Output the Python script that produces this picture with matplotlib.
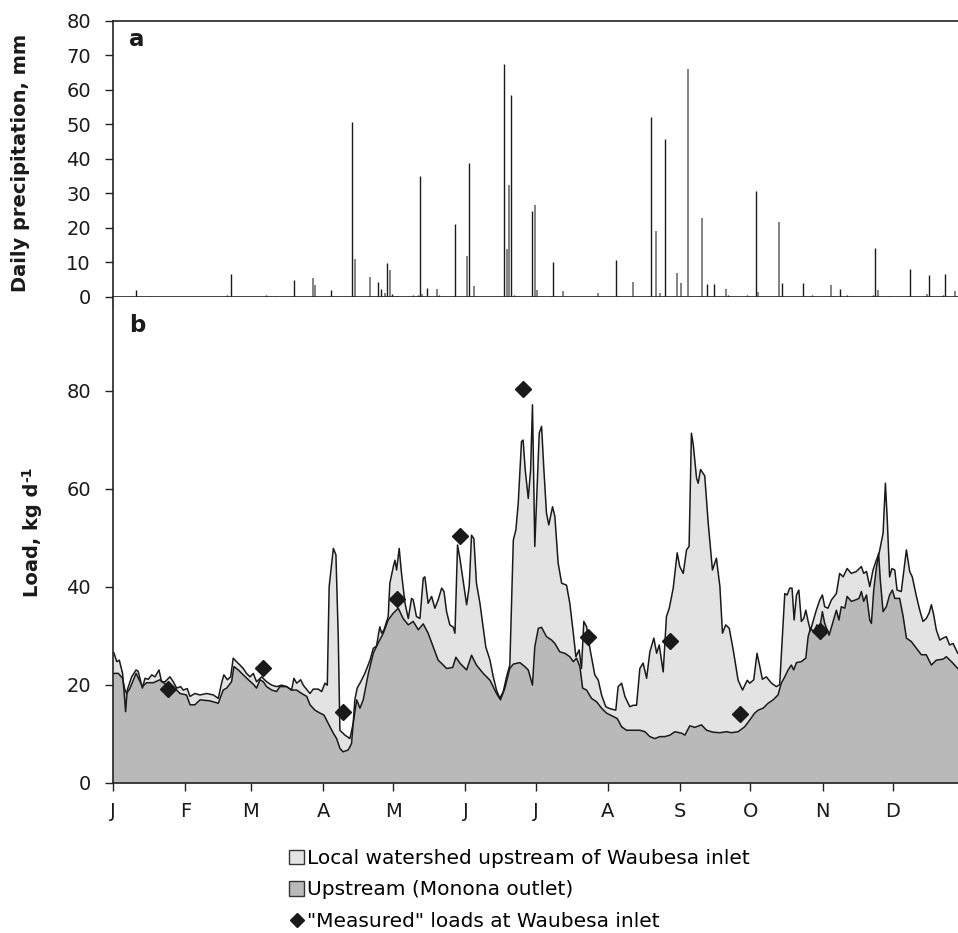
import numpy as np
import matplotlib
matplotlib.use('Agg')
import matplotlib.pyplot as plt
from matplotlib.patches import Patch
from matplotlib.lines import Line2D

plt.rcParams['font.family'] = ['DejaVu Sans']

# --- panel a: daily precipitation (mm), day of year ---
precip_black_days = [9.7, 15.5, 48.7, 50.5, 65.5, 69.7, 77.7, 93.6, 96.5, 102.5, 109.5,
                     113.6, 114.6, 117.5, 119.6, 120.6, 121.5, 128.6, 130.8, 131.6, 134.6,
                     139.5, 146.6, 152.5, 167.6, 170.6, 171.6, 173.7, 179.6, 187.6, 188.6,
                     215.6, 216.6, 230.5, 236.5, 254.5, 257.5, 263.5, 271.6, 275.5, 286.5,
                     295.5, 299.5, 308.5, 309.5, 311.5, 314.5, 325.6, 326.6, 332.6, 341.6,
                     347.7, 349.6, 355.6, 356.6]
precip_black = [2.0, 0.3, 0.5, 6.7, 0.5, 0.3, 4.9, 2.0, 0.4, 50.7, 0.4,
                4.3, 2.4, 9.9, 0.8, 0.3, 0.3, 0.5, 0.7, 35.1, 2.6,
                0.6, 21.1, 38.8, 67.6, 58.5, 0.6, 0.3, 24.9, 0.3, 10.1,
                10.8, 0.3, 52.3, 45.8, 3.7, 3.7, 0.6, 0.6, 30.6, 4.1,
                4.0, 0.6, 0.3, 0.3, 2.2, 0.7, 0.6, 14.3, 0.3, 8.2,
                0.3, 6.3, 0.7, 6.8]
precip_gray_days = [85.5, 86.5, 103.5, 110.3, 116.5, 118.5, 132.5, 138.6, 151.5, 154.6,
                    168.6, 169.6, 180.6, 181.6, 192.6, 207.6, 222.6, 232.5, 234.5, 241.5,
                    243.5, 246.5, 252.5, 262.5, 276.5, 285.5, 307.5, 327.6, 348.6, 360.6]
precip_gray = [5.6, 3.5, 11.0, 5.9, 1.1, 7.8, 1.0, 2.2, 11.9, 3.2,
               13.8, 32.4, 26.6, 2.0, 1.7, 1.1, 4.3, 19.1, 1.2, 7.0,
               4.0, 66.1, 22.8, 2.3, 1.5, 21.7, 3.6, 2.0, 0.8, 1.7]

# --- panel b: loads (kg/d) ---
total_days = [0, 0.4, 1.6, 2.7, 4.1, 5.4, 6.1, 8.0, 9.9, 10.8, 12.6, 13.7, 15.1, 16.6, 18.0,
              19.7, 20.8, 22.3, 24.4, 25.8, 27.3, 29.0, 30.1, 31.8, 33.0, 35.1, 37.3, 40.1,
              43.0, 45.1, 46.5, 47.5, 49.0, 50.4, 51.5, 52.9, 54.4, 55.8, 57.2, 58.7, 60.1,
              61.5, 63.7, 65.8, 68.0, 70.1, 72.2, 74.4, 76.5, 77.5, 78.7, 80.4, 81.5, 83.2,
              84.4, 85.8, 87.9, 89.4, 90.8, 91.8, 92.6, 94.4, 95.5, 96.5, 97.2, 99.4, 101.5,
              102.9, 103.6, 104.6, 105.8, 107.9, 110.1, 111.5, 112.9, 114.3, 115.1, 116.1,
              117.9, 118.6, 120.1, 120.8, 121.5, 122.6, 123.6, 125.1, 126.5, 127.9, 128.6,
              130.0, 131.5, 132.9, 133.6, 135.0, 136.5, 137.9, 139.3, 140.8, 141.8, 142.9,
              144.3, 145.8, 146.5, 147.6, 148.6, 151.5, 152.6, 153.6, 154.6, 155.7, 157.2,
              159.7, 161.5, 162.9, 164.3, 165.7, 167.2, 168.6, 170.0, 171.5, 172.6, 173.6,
              175.0, 175.7, 176.6, 177.9, 178.9, 179.7, 180.7, 182.6, 183.6, 184.6, 185.7,
              186.7, 188.3, 189.3, 190.7, 192.2, 194.3, 195.7, 197.2, 198.3, 199.7, 200.7,
              201.7, 202.9, 204.3, 206.4, 207.9, 209.3, 211.1, 212.9, 215.4, 216.4, 217.9,
              219.3, 221.4, 222.9, 224.3, 225.7, 227.1, 228.6, 230.0, 231.7, 232.9, 234.0,
              235.7, 237.1, 238.3, 240.0, 241.7, 242.8, 244.3, 245.7, 246.8, 247.8, 248.6,
              250.0, 250.7, 251.7, 253.5, 255.0, 256.8, 258.5, 260.0, 261.1, 262.5, 264.0,
              265.7, 267.8, 269.7, 271.7, 272.8, 274.5, 275.9, 277.1, 278.2, 279.9, 282.1,
              284.2, 285.6, 287.8, 288.8, 289.9, 290.9, 291.8, 292.8, 293.8, 294.9, 295.9,
              296.8, 297.8, 298.8, 299.9, 301.3, 302.8, 303.9, 304.9, 306.3, 307.8, 309.9,
              311.3, 312.8, 314.5, 316.3, 318.5, 320.6, 321.6, 322.8, 324.2, 325.6, 327.0,
              328.2, 329.9, 330.9, 331.7, 332.7, 333.7, 334.9, 335.9, 337.7, 339.9, 341.3,
              342.4, 344.2, 345.6, 347.0, 348.4, 349.6, 350.6, 351.6, 352.7, 354.2, 355.6,
              357.0, 358.4, 359.9, 361.9]
total_load = [26.5, 26.5, 24.7, 25.0, 22.3, 14.5, 18.9, 21.6, 23.0, 22.7, 19.3, 21.3, 21.1, 22.0, 21.6,
              23.0, 20.6, 20.6, 21.6, 20.6, 19.3, 19.6, 18.9, 19.2, 17.6, 18.2, 17.9, 18.2,
              17.9, 17.2, 20.3, 22.0, 21.0, 21.6, 25.4, 24.7, 24.0, 23.3, 22.3, 21.6, 22.3,
              20.6, 21.6, 20.6, 19.9, 19.6, 19.9, 19.6, 18.9, 21.3, 20.3, 21.0, 19.9, 18.9,
              18.2, 19.1, 19.1, 18.6, 20.3, 19.9, 40.0, 47.8, 46.5, 29.8, 10.7, 9.7, 9.0,
              12.1, 16.9, 19.3, 20.3, 22.3, 25.0, 27.4, 27.9, 31.8, 30.5, 31.2,
              33.9, 40.7, 44.1, 45.4, 43.4, 47.8, 42.7, 36.6, 33.5, 37.6, 37.3,
              33.9, 33.5, 41.7, 42.0, 36.6, 38.0, 35.6, 37.3, 39.7, 39.0, 34.9,
              32.2, 31.7, 30.5, 48.5, 45.8, 36.3, 40.0, 50.5, 49.8, 40.7, 36.6,
              27.7, 25.0, 21.6, 18.9, 17.2, 18.6, 21.6, 24.0, 49.5, 51.6, 57.0,
              69.6, 69.9, 63.8, 58.0, 63.8, 77.1, 48.2, 71.3, 72.7, 63.8, 55.0,
              52.6, 56.3, 54.3, 44.8, 40.7, 40.3, 36.6, 30.5, 25.7, 27.1, 23.3,
              32.9, 31.8, 27.4, 22.0, 20.9, 17.9, 15.5, 15.1, 14.8, 19.6, 20.3,
              17.6, 15.5, 15.8, 15.8, 23.3, 24.4, 21.3, 26.7, 29.5, 26.4, 28.1,
              22.6, 33.9, 35.6, 39.7, 46.9, 44.1, 42.7, 47.5, 48.2, 71.3, 68.9,
              62.1, 61.1, 63.9, 62.6, 52.9, 43.4, 45.8, 40.0, 30.5, 32.2, 31.5,
              27.1, 20.9, 18.9, 20.9, 20.3, 21.0, 26.4, 23.7, 21.1, 21.6, 20.3,
              19.6, 20.0, 38.6, 38.3, 39.7, 39.7, 33.2, 38.3, 39.3, 32.9, 33.5,
              35.2, 32.9, 31.0, 32.9, 35.2, 37.3, 38.3, 35.9, 35.6, 37.3, 38.6,
              42.7, 42.0, 43.7, 42.7, 43.1, 44.1, 42.7, 43.1, 40.0, 43.4, 45.4,
              46.8, 50.9, 61.1, 53.6, 42.0, 43.7, 43.4, 39.3, 39.0, 47.5, 43.1,
              42.0, 38.0, 35.2, 32.9, 33.5, 34.6, 36.3, 34.2, 31.2, 29.1, 29.5,
              29.8, 28.1, 28.4, 26.4]

upstream_days = [0, 0.4, 2.3, 4.1, 5.1, 5.9, 7.3, 9.9, 12.6, 14.4, 17.3, 20.1, 23.0, 25.8, 28.7,
                 31.5, 33.0, 35.1, 37.3, 41.5, 45.1, 47.2, 48.7, 50.8, 51.8, 53.7, 55.8, 58.0,
                 60.1, 61.5, 63.0, 64.4, 65.8, 68.0, 70.1, 71.5, 74.4, 76.5, 78.7, 80.8, 83.0,
                 84.4, 86.5, 88.7, 90.4, 92.2, 94.4, 95.8, 97.2, 98.6, 100.8, 102.2, 102.9,
                 104.4, 105.8, 107.2, 109.4, 111.5, 113.6, 115.8, 117.9, 120.1, 122.2, 124.3,
                 126.5, 128.6, 130.8, 132.9, 135.0, 137.2, 139.3, 141.5, 142.9, 145.5, 146.9,
                 148.6, 151.5, 153.6, 155.7, 158.6, 161.5, 164.3, 166.0, 167.9, 170.0, 171.5,
                 174.3, 176.4, 177.9, 179.7, 180.7, 182.2, 183.6, 185.7, 187.9, 189.3, 191.4,
                 193.6, 195.7, 197.2, 198.6, 200.0, 201.2, 202.9, 205.0, 207.2, 209.3, 211.4,
                 214.3, 216.0, 217.9, 220.0, 222.9, 225.7, 227.9, 230.0, 232.1, 234.3, 236.4,
                 238.6, 240.7, 243.6, 245.0, 247.1, 249.3, 252.1, 254.3, 257.1, 260.0, 262.8,
                 265.0, 267.8, 270.6, 272.8, 274.9, 276.4, 278.5, 280.6, 282.8, 284.9, 286.3,
                 287.8, 289.2, 290.6, 291.6, 292.8, 294.9, 296.8, 297.8, 298.8, 300.2, 301.6,
                 302.8, 303.9, 304.9, 306.8, 308.5, 309.9, 311.0, 312.0, 313.5, 314.5, 316.3,
                 318.2, 319.6, 320.6, 321.6, 322.8, 324.2, 324.9, 325.9, 327.0, 328.0, 328.7,
                 329.9, 331.3, 332.7, 333.9, 334.9, 337.0, 338.5, 339.9, 342.0, 344.2, 346.3,
                 348.4, 350.6, 352.7, 355.6, 357.0, 359.2, 361.9]
upstream_load = [22.3, 22.3, 22.3, 21.3, 18.9, 18.2, 19.3, 22.3, 19.6, 20.4, 20.4, 21.0, 19.9, 19.6, 18.2,
                 17.9, 15.9, 15.9, 16.9, 16.7, 16.2, 18.9, 19.3, 20.6, 23.7, 23.0, 22.0, 21.0,
                 20.1, 19.3, 21.0, 20.6, 19.6, 18.9, 18.6, 19.6, 19.6, 18.9, 18.9, 18.2, 17.6,
                 15.9, 14.8, 14.2, 13.8, 12.1, 10.1, 9.0, 7.0, 6.3, 6.7, 8.0, 12.1,
                 16.9, 15.2, 16.9, 22.3, 26.4, 28.5, 30.5, 33.2, 34.6, 35.6, 33.5,
                 32.2, 32.9, 31.2, 32.4, 30.5, 27.7, 25.0, 24.0, 23.3, 23.5, 25.6,
                 24.4, 23.0, 26.0, 24.0, 22.3, 20.9, 18.2, 16.9, 19.3, 23.3, 24.2,
                 24.5, 23.7, 23.0, 19.9, 27.7, 31.5, 31.7, 29.8, 29.1, 28.4, 26.7,
                 26.4, 25.7, 24.7, 25.4, 23.7, 19.3, 18.9, 17.2, 16.5, 15.2, 14.2,
                 13.5, 13.1, 11.4, 10.7, 10.7, 10.7, 10.4, 9.4, 9.0, 9.4, 9.4,
                 9.7, 10.4, 10.1, 9.7, 11.6, 11.3, 11.8, 10.7, 10.3, 10.2, 10.4,
                 10.2, 10.4, 11.4, 12.8, 14.2, 14.8, 15.2, 16.2, 16.9, 17.9, 20.3,
                 21.6, 23.0, 24.0, 23.0, 24.5, 24.7, 25.4, 29.8, 31.5, 30.8, 32.2,
                 31.5, 34.9, 32.5, 30.1, 32.9, 35.2, 33.2, 35.9, 35.6, 38.0, 37.0,
                 37.3, 37.6, 39.0, 37.0, 38.3, 33.2, 32.5, 39.3, 43.7, 46.8, 41.4,
                 34.9, 35.9, 38.3, 39.3, 37.6, 37.6, 33.9, 29.5, 28.8, 27.4, 26.1,
                 26.1, 24.0, 25.0, 25.2, 25.7, 24.7, 23.3]

measured_days = [23.4, 64.4, 98.6, 121.5, 148.6, 175.7, 203.6, 238.7, 268.7, 302.8]
measured_load = [19.1, 23.5, 14.5, 37.4, 50.3, 80.3, 29.7, 28.9, 14.0, 31.0]

month_starts = [0, 31, 59, 90, 120, 151, 181, 212, 243, 273, 304, 334]
month_labels = ['J', 'F', 'M', 'A', 'M', 'J', 'J', 'A', 'S', 'O', 'N', 'D']

light = '#e3e3e3'
dark = '#b9b9b9'
ink = '#1a1a1a'

W, H = 958, 933
fig = plt.figure(figsize=(W / 100, H / 100), dpi=100)
left = 113 / W
ax1 = fig.add_axes([left, 0.6817, 1 - left, 0.2958])
ax2 = fig.add_axes([left, 0.1611, 1 - left, 0.5206])

# panel a
ax1.vlines(precip_black_days, 0, precip_black, color=ink, lw=1.0)
ax1.vlines(precip_gray_days, 0, precip_gray, color='#7a7a7a', lw=1.3)
ax1.set_xlim(0, 362)
ax1.set_ylim(0, 80)
ax1.set_yticks(range(0, 81, 10))
ax1.tick_params(axis='x', length=0, labelbottom=False)
ax1.spines['right'].set_visible(False)
ax1.text(0.019, 0.975, 'a', transform=ax1.transAxes, fontsize=16.5,
         fontweight='bold', va='top', ha='left', color=ink)

# panel b
ax2.fill_between(total_days, 0, total_load, color=light, lw=0)
ax2.fill_between(upstream_days, 0, upstream_load, color=dark, lw=0)
ax2.plot(total_days, total_load, color=ink, lw=1.1)
ax2.plot(upstream_days, upstream_load, color=ink, lw=1.1)
ax2.plot(measured_days, measured_load, ls='none', marker='D', ms=8.5,
         color=ink, zorder=5)
ax2.set_xlim(0, 362)
ax2.set_ylim(0, 99.1)
ax2.set_yticks([0, 20, 40, 60, 80])
ax2.set_xticks(month_starts)
ax2.set_xticklabels(month_labels)
ax2.spines['right'].set_visible(False)
ax2.spines['top'].set_visible(False)
ax2.text(0.019, 0.965, 'b', transform=ax2.transAxes, fontsize=16.5,
         fontweight='bold', va='top', ha='left', color=ink)

for ax in (ax1, ax2):
    for s in ax.spines.values():
        s.set_linewidth(1.2)
        s.set_color('#222222')
    ax.tick_params(direction='out', length=6, width=1, colors='#222222',
                   labelsize=14, labelcolor=ink)
    ax.tick_params(axis='y', pad=10)
ax2.tick_params(axis='x', pad=8)

fig.text(21 / W, 1 - 163 / H, 'Daily precipitation, mm', rotation=90,
         ha='center', va='center', fontsize=14, fontweight='bold', color=ink)
load_lab = fig.text(33 / W, 1 - 597 / H, 'Load, kg d', rotation=90,
                    ha='center', va='bottom', fontsize=14, fontweight='bold', color=ink)
fig.canvas.draw()
bb = load_lab.get_window_extent()
fig.text(27 / W, (bb.y1 + 1) / H, '-1', rotation=90, ha='center', va='bottom',
         fontsize=10, fontweight='bold', color=ink)

handles = [Patch(facecolor=light, edgecolor='#333333', lw=1.0),
           Patch(facecolor=dark, edgecolor='#333333', lw=1.0),
           Line2D([], [], ls='none', marker='D', ms=7, color=ink)]
labels = ['Local watershed upstream of Waubesa inlet',
          'Upstream (Monona outlet)',
          '"Measured" loads at Waubesa inlet']
fig.legend(handles, labels, loc='upper left', bbox_to_anchor=(289 / W, 1 - 849 / H),
           frameon=False, fontsize=14.5, handlelength=0.75, handleheight=0.75,
           handletextpad=0.15, labelspacing=0.62, borderaxespad=0, borderpad=0)

fig.savefig('out.png', dpi=100)
